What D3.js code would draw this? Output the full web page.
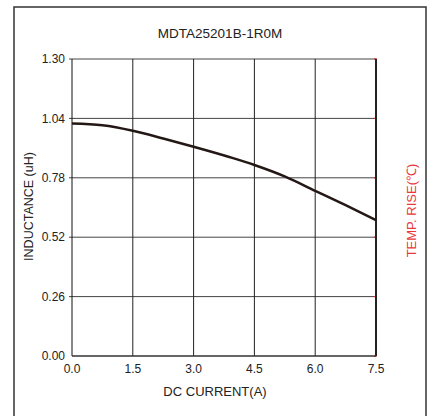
<!DOCTYPE html>
<html>
<head>
<meta charset="utf-8">
<script src="https://cdn.jsdelivr.net/npm/d3@7"></script>
<style>
  html, body { margin: 0; padding: 0; background: #fff; }
  svg { display: block; font-family: "Liberation Sans", Arial, sans-serif; }
</style>
</head>
<body>
<div id="chart"></div>
<script>
// Inductance vs DC current curve
const title = 'MDTA25201B-1R0M';
const currentA = [0, 0.75, 1.5, 2.25, 3.0, 3.9, 4.5, 5.26, 6.0, 6.75, 7.5];
const inductanceUH = [1.018, 1.010, 0.986, 0.952, 0.916, 0.870, 0.836, 0.785, 0.723, 0.660, 0.595];
const xTicks = [0, 1.5, 3.0, 4.5, 6.0, 7.5];
const yTicks = [0, 0.26, 0.52, 0.78, 1.04, 1.30];

const W = 429, H = 416;
const margin = { top: 59, right: 53, bottom: 60, left: 72 };
const width = W - margin.left - margin.right;   // 304
const height = H - margin.top - margin.bottom;  // 297

const svg = d3.select('#chart').append('svg')
  .attr('width', W)
  .attr('height', H);

// outer frame (bottom edge runs off the picture)
svg.append('rect')
  .attr('x', 14).attr('y', 7)
  .attr('width', 412).attr('height', 420)
  .attr('fill', 'none')
  .attr('stroke', '#333')
  .attr('stroke-width', 1.5);

svg.append('text')
  .attr('x', 220).attr('y', 38)
  .attr('text-anchor', 'middle')
  .attr('font-size', 13.5)
  .attr('fill', '#222')
  .text(title);

const g = svg.append('g')
  .attr('transform', `translate(${margin.left},${margin.top})`);

const x = d3.scaleLinear().domain([0, 7.5]).range([0, width]);
const y = d3.scaleLinear().domain([0, 1.30]).range([height, 0]);

// horizontal grid
g.selectAll('.hgrid')
  .data(yTicks.filter(d => d > 0))
  .enter().append('line')
  .attr('class', 'hgrid')
  .attr('x1', -3).attr('x2', width)
  .attr('y1', d => y(d)).attr('y2', d => y(d))
  .attr('stroke', '#444')
  .attr('stroke-width', 1);

// vertical grid
g.selectAll('.vgrid')
  .data(xTicks.filter(d => d > 0 && d < 7.5))
  .enter().append('line')
  .attr('class', 'vgrid')
  .attr('x1', d => x(d)).attr('x2', d => x(d))
  .attr('y1', 0).attr('y2', height)
  .attr('stroke', '#222')
  .attr('stroke-width', 1);

// little red ticks on the right axis
g.selectAll('.rtick')
  .data(yTicks)
  .enter().append('line')
  .attr('class', 'rtick')
  .attr('x1', width - 2).attr('x2', width + 1)
  .attr('y1', d => y(d)).attr('y2', d => y(d))
  .attr('stroke', '#e03030')
  .attr('stroke-width', 1.2);

// left axis line
g.append('line')
  .attr('x1', 0).attr('x2', 0)
  .attr('y1', 0).attr('y2', height)
  .attr('stroke', '#111').attr('stroke-width', 1);

// right axis line (heavier)
g.append('line')
  .attr('x1', width).attr('x2', width)
  .attr('y1', 0).attr('y2', height)
  .attr('stroke', '#222').attr('stroke-width', 2);

// bottom axis line
g.append('line')
  .attr('x1', 0).attr('x2', width)
  .attr('y1', height).attr('y2', height)
  .attr('stroke', '#333').attr('stroke-width', 1.5);

// tick labels
g.selectAll('.ylab')
  .data(yTicks)
  .enter().append('text')
  .attr('class', 'ylab')
  .attr('x', -7)
  .attr('y', d => y(d))
  .attr('dy', '0.35em')
  .attr('text-anchor', 'end')
  .attr('font-size', 12)
  .attr('fill', '#222')
  .text(d => d.toFixed(2));

g.selectAll('.xlab')
  .data(xTicks)
  .enter().append('text')
  .attr('class', 'xlab')
  .attr('x', d => x(d))
  .attr('y', height + 17)
  .attr('text-anchor', 'middle')
  .attr('font-size', 12)
  .attr('fill', '#222')
  .text(d => d.toFixed(1));

// axis titles
g.append('text')
  .attr('x', width / 2 - 9)
  .attr('y', height + 40)
  .attr('text-anchor', 'middle')
  .attr('font-size', 13)
  .attr('fill', '#222')
  .text('DC CURRENT(A)');

g.append('text')
  .attr('transform', `translate(${-39},${height / 2 - 1}) rotate(-90)`)
  .attr('text-anchor', 'middle')
  .attr('font-size', 12.5)
  .attr('fill', '#222')
  .text('INDUCTANCE (uH)');

g.append('text')
  .attr('transform', `translate(${width + 40},${height / 2 + 3}) rotate(-90)`)
  .attr('text-anchor', 'middle')
  .attr('font-size', 13)
  .attr('fill', '#e8383d')
  .text('TEMP. RISE(℃)');

// inductance curve
const pts = currentA.map((c, i) => ({ c, l: inductanceUH[i] }));
const line = d3.line()
  .x(d => x(d.c))
  .y(d => y(d.l))
  .curve(d3.curveMonotoneX);

g.append('path')
  .datum(pts)
  .attr('fill', 'none')
  .attr('stroke', '#231815')
  .attr('stroke-width', 2.5)
  .attr('d', line);
</script>
</body>
</html>
